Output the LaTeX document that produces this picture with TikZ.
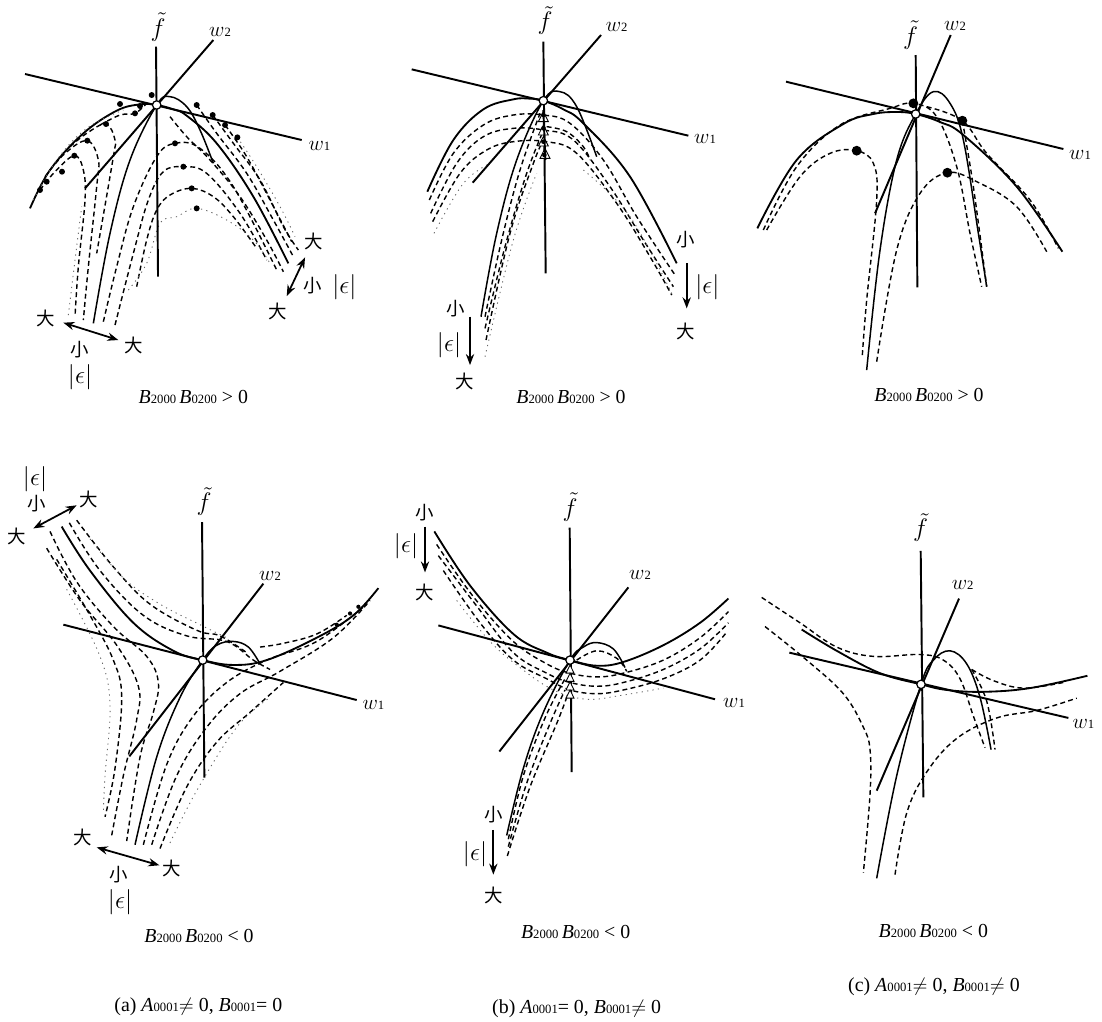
\documentclass[tikz,border=0pt]{standalone}
\usepackage{fontspec}
\setmainfont{Liberation Serif}
\newfontfamily\cjk{Noto Sans CJK SC}
\usepackage{amsmath, amssymb}
\usetikzlibrary{arrows.meta}
\newcommand{\sbs}[1]{{\fontsize{7.2}{8}\selectfont #1}}
\newcommand{\bprod}{\textit{B}\sbs{2000}\,\textit{B}\sbs{0200}}
\begin{document}
\begin{tikzpicture}[
  toprow/.style={x=0.006667cm, y=-0.006667cm},
  botrow/.style={x=0.006667cm, y=-0.007463cm},
  axisline/.style={line width=1.1pt, black},
  maincurve/.style={line width=1.05pt, black},
  thincurve/.style={line width=.85pt, black},
  dashcurve/.style={line width=.8pt, black, dash pattern=on 2.8pt off 1.9pt},
  fadecurve/.style={line width=.5pt, black!60, dash pattern=on .7pt off 2.4pt},
  arrow/.style={-{Stealth[length=2.2mm]}, line width=1pt},
  dblarrow/.style={{Stealth[length=2.2mm]}-{Stealth[length=2.2mm]}, line width=1pt},
  origin/.style={circle, draw=black, fill=white, line width=.7pt, inner sep=0pt, minimum size=4.8pt},
  trimark/.style={draw=black, fill=white, line width=.5pt},
  ftilde/.style={font=\fontsize{15}{17}\selectfont},
  wlabel/.style={font=\fontsize{13}{15}\selectfont},
  hanzi/.style={font=\fontsize{10.5}{12}\selectfont\cjk},
  eps/.style={font=\fontsize{14}{16}\selectfont},
  capt/.style={font=\fontsize{11.3}{13}\selectfont},
  tension=0.62,
]
\useasboundingbox (0,0) rectangle (22.04,-20.44);

% === Panel a, top ===
\begin{scope}[toprow]
\draw[maincurve] plot[smooth] coordinates {(90,625) (150,510) (250,400) (350,332) (420,313) (470,315) (520,328) (560,347) (650,430) (760,590) (865,790)};
\draw[thincurve] plot[smooth] coordinates {(280,970) (330,700) (390,480) (470,315) (510,290) (560,320) (600,390) (640,490)};
\draw[dashcurve] plot[smooth] coordinates {(120,570) (165,515) (223,467) (250,510) (255,600) (235,800) (225,950)};
\draw[dashcurve] plot[smooth] coordinates {(135,530) (195,460) (262,422) (295,480) (290,560) (265,800) (250,960)};
\draw[dashcurve] plot[smooth] coordinates {(210,440) (260,400) (318,372) (345,420) (340,470) (290,760)};
\draw[dashcurve] plot[smooth] coordinates {(300,375) (360,345) (405,340) (440,310)};
\draw[dashcurve] plot[smooth] coordinates {(310,965) (350,800) (400,620) (470,470) (525,430) (600,445) (700,560) (830,810)};
\draw[dashcurve] plot[smooth] coordinates {(345,975) (400,760) (445,600) (490,515) (550,500) (620,520) (720,640) (800,780)};
\draw[dashcurve] plot[smooth] coordinates {(410,860) (440,720) (470,630) (510,585) (575,565) (640,590) (700,650) (770,745)};
\draw[fadecurve] plot[smooth] coordinates {(205,945) (225,780) (245,620)};
\draw[fadecurve] plot[smooth] coordinates {(385,870) (440,790) (480,670) (530,650) (590,625) (680,660) (760,720) (810,790)};
\draw[dashcurve] plot[smooth] coordinates {(590,315) (650,400) (740,520) (820,660) (880,770)};
\draw[dashcurve] plot[smooth] coordinates {(638,345) (700,430) (780,540) (850,680) (895,750)};
\draw[dashcurve] plot[smooth] coordinates {(675,375) (740,470) (810,600) (875,725)};
\draw[dashcurve] plot[smooth] coordinates {(510,350) (560,410) (630,480) (720,590) (800,720) (850,815)};
\draw[fadecurve] plot[smooth] coordinates {(712,412) (770,500) (840,620) (885,710)};
\draw[fadecurve] plot[smooth] coordinates {(100,600) (170,480) (260,385) (370,330)};
\fill (223,467) circle (1.7pt) (186,515) circle (1.7pt) (140,545) circle (1.7pt) (120,570) circle (1.7pt)
  (262,422) circle (1.7pt) (318,372) circle (1.7pt) (405,340) circle (1.7pt) (420,318) circle (1.7pt)
  (360,312) circle (1.7pt) (455,285) circle (1.7pt) (590,315) circle (1.7pt) (638,345) circle (1.7pt)
  (675,375) circle (1.7pt) (712,412) circle (1.7pt) (525,430) circle (1.7pt) (550,500) circle (1.7pt)
  (575,565) circle (1.7pt) (590,625) circle (1.7pt);
\draw[axisline] (468,140) -- (474,830);
\draw[axisline] (640,120) -- (255,565);
\draw[axisline] (75,222) -- (905,420);
\node[origin] (oa) at (470,315) {};
\node[ftilde] (fa) at (474,82) {$\tilde{f}$};
\node[wlabel] (wta) at (660,95) {$w$\sbs{2}};
\node[wlabel] (woa) at (958,437) {$w$\sbs{1}};
\draw[dblarrow] (190,968) -- (355,1020);
\node[hanzi] (bla) at (138,955) {大};
\node[hanzi] (bra) at (400,1035) {大};
\node[hanzi] (sla) at (238,1050) {小};
\node[eps] (ela) at (240,1132) {$|\epsilon|$};
\draw[dblarrow] (915,772) -- (860,888);
\node[hanzi] (tra) at (940,725) {大};
\node[hanzi] (sra) at (938,857) {小};
\node[eps] (era) at (1033,860) {$|\epsilon|$};
\node[hanzi] (lra) at (833,935) {大};
\node[capt] (capa) at (580,1190) {\bprod{} > 0};
\end{scope}

% === Panel b, top ===
\begin{scope}[toprow, shift={(7.4cm,0cm)}]
\draw[maincurve] plot[smooth] coordinates {(172,575) (250,420) (340,328) (430,298) (480,296) (520,302) (580,328) (640,370) (780,530) (920,790)};
\draw[thincurve] plot[smooth] coordinates {(333,950) (380,700) (440,480) (520,302) (570,275) (620,320) (680,470)};
\draw[dashcurve] plot[smooth] coordinates {(178,600) (250,460) (340,375) (430,345) (520,345) (600,370) (700,480) (800,650) (915,825)};
\draw[dashcurve] plot[smooth] coordinates {(182,640) (260,490) (340,410) (430,385) (520,390) (610,420) (720,560) (820,720) (910,860)};
\draw[dashcurve] plot[smooth] coordinates {(188,665) (270,520) (350,450) (430,425) (530,425) (620,460) (740,610) (840,770) (905,885)};
\draw[fadecurve] plot[smooth] coordinates {(192,700) (280,550) (360,490)};
\draw[fadecurve] plot[smooth] coordinates {(640,510) (780,650) (910,890)};
\draw[dashcurve] plot[smooth] coordinates {(345,950) (395,720) (450,510) (510,340)};
\draw[dashcurve] plot[smooth] coordinates {(345,985) (405,740) (470,520) (525,380)};
\draw[dashcurve] plot[smooth] coordinates {(348,1020) (420,700) (490,490) (520,420)};
\draw[fadecurve] plot[smooth] coordinates {(345,1070) (430,720) (500,520)};
\draw[dashcurve] plot[smooth] coordinates {(530,380) (590,395) (640,440) (660,480)};
\draw[axisline] (520,125) -- (527,820);
\draw[axisline] (693,105) -- (308,548);
\draw[axisline] (125,208) -- (955,407);
\path[trimark] (520,335) -- (505,365) -- (535,365) -- cycle;
\path[trimark] (520,375) -- (505,405) -- (535,405) -- cycle;
\path[trimark] (520,410) -- (505,438) -- (535,438) -- cycle;
\path[trimark] (525,445) -- (510,475) -- (540,475) -- cycle;
\draw[axisline] (520,330) -- (526,480);
\fill (520,345) circle (1.3pt) (520,385) circle (1.3pt) (520,425) circle (1.3pt) (523,465) circle (1.3pt);
\node[origin] (ob) at (520,302) {};
\node[ftilde] (fb) at (525,62) {$\tilde{f}$};
\node[wlabel] (wtb) at (740,80) {$w$\sbs{2}};
\node[wlabel] (wob) at (1005,418) {$w$\sbs{1}};
\draw[arrow] (300,950) -- (300,1095);
\node[hanzi] (slb) at (258,925) {小};
\node[eps] (elb) at (237,1035) {$|\epsilon|$};
\node[hanzi] (blb) at (283,1145) {大};
\draw[arrow] (950,790) -- (950,925);
\node[hanzi] (srb) at (948,720) {小};
\node[eps] (erb) at (1012,860) {$|\epsilon|$};
\node[hanzi] (brb) at (948,995) {大};
\node[capt] (capb) at (603,1190) {\bprod{} > 0};
\end{scope}

% === Panel c, top ===
\begin{scope}[toprow, shift={(14.6cm,0cm)}]
\draw[maincurve] plot[smooth] coordinates {(82,685) (200,480) (340,372) (430,342) (500,336) (557,342) (630,366) (700,405) (860,560) (997,755)};
\draw[thincurve] plot[smooth] coordinates {(410,1110) (450,750) (500,480) (557,342) (610,275) (660,310) (700,420) (745,700) (770,860)};
\draw[dashcurve] plot[smooth] coordinates {(100,690) (200,500) (330,375) (480,325) (550,310) (620,350) (680,500) (720,700) (755,860)};
\draw[dashcurve] plot[smooth] coordinates {(110,690) (210,530) (300,460) (380,452) (430,490) (440,600) (410,900) (397,1065)};
\draw[dashcurve] plot[smooth] coordinates {(440,1085) (500,750) (570,580) (652,518) (740,545) (860,620) (950,755)};
\draw[dashcurve] plot[smooth] coordinates {(590,320) (697,362) (770,460) (900,600) (985,745)};
\draw[dashcurve] plot[smooth] coordinates {(697,362) (730,560) (770,860)};
\fill (550,310) circle (2.8pt) (697,362) circle (2.8pt) (380,452) circle (2.8pt) (652,518) circle (2.8pt);
\draw[axisline] (557,165) -- (562,862);
\draw[axisline] (662,105) -- (435,640);
\draw[axisline] (168,245) -- (1000,447);
\node[origin] (oc) at (557,342) {};
\node[ftilde] (fc) at (542,105) {$\tilde{f}$};
\node[wlabel] (wtc) at (675,78) {$w$\sbs{2}};
\node[wlabel] (woc) at (1050,465) {$w$\sbs{1}};
\node[capt] (capc) at (597,1185) {\bprod{} > 0};
\end{scope}

% === Panel a, bottom ===
\begin{scope}[botrow, shift={(0cm,-8.8cm)}]
\draw[maincurve] plot[smooth] coordinates {(185,232) (270,350) (400,490) (520,565) (608,590) (700,603) (800,590) (950,530) (1060,470) (1135,397)};
\draw[thincurve] plot[smooth] coordinates {(405,1085) (470,850) (540,690) (608,590) (650,550) (700,540) (745,555) (780,600)};
\draw[dashcurve] plot[smooth] coordinates {(208,222) (300,350) (430,470) (560,525) (680,540) (760,590) (810,615)};
\draw[dashcurve] plot[smooth] coordinates {(230,215) (340,340) (450,440) (590,510) (660,525) (740,570)};
\draw[fadecurve] plot[smooth] coordinates {(270,265) (370,370) (480,440) (600,495) (680,530)};
\draw[dashcurve] plot[smooth] coordinates {(150,245) (230,380) (340,500) (440,580) (475,650) (460,730) (420,850) (380,1075)};
\draw[dashcurve] plot[smooth] coordinates {(140,290) (240,430) (350,550) (415,660) (410,750) (370,900) (335,1060)};
\draw[dashcurve] plot[smooth] coordinates {(170,320) (270,470) (340,590) (365,690) (345,880) (315,1010)};
\draw[fadecurve] plot[smooth] coordinates {(200,400) (300,580) (330,710) (315,900) (310,1000)};
\draw[dashcurve] plot[smooth] coordinates {(430,1085) (500,870) (580,740) (680,650) (800,590) (950,540) (1100,440)};
\draw[dashcurve] plot[smooth] coordinates {(455,1085) (530,900) (620,770) (720,680) (840,620) (1000,530) (1110,430)};
\draw[dashcurve] plot[smooth] coordinates {(480,1095) (560,930) (650,810) (750,730) (850,650)};
\draw[fadecurve] plot[smooth] coordinates {(510,1080) (590,940) (710,770) (810,690)};
\draw[dashcurve] plot[smooth] coordinates {(780,555) (850,545) (950,520) (1040,470)};
\fill (1010,495) circle (1.2pt) (1050,465) circle (1.2pt) (1075,447) circle (1.2pt);
\draw[axisline] (606,220) -- (613,905);
\draw[axisline] (790,385) -- (388,848);
\draw[axisline] (190,495) -- (1070,697);
\node[origin] (od) at (608,590) {};
\node[ftilde] (fd) at (612,165) {$\tilde{f}$};
\node[wlabel] (wtd) at (810,365) {$w$\sbs{2}};
\node[wlabel] (wod) at (1120,710) {$w$\sbs{1}};
\draw[dblarrow] (290,1092) -- (478,1140);
\node[hanzi] (bld) at (247,1065) {大};
\node[hanzi] (brd) at (515,1148) {大};
\node[hanzi] (sld) at (355,1165) {小};
\node[eps] (eld) at (360,1240) {$|\epsilon|$};
\draw[dblarrow] (100,237) -- (230,175);
\node[hanzi] (tld) at (50,258) {大};
\node[hanzi] (trd) at (265,160) {大};
\node[hanzi] (std) at (110,170) {小};
\node[eps] (etd) at (105,105) {$|\epsilon|$};
\node[capt] (capd) at (597,1330) {\bprod{} < 0};
\node[capt] (suba) at (595,1520) {(a) \textit{A}\sbs{0001}$\neq$ 0, \textit{B}\sbs{0001}= 0};
\end{scope}

% === Panel b, bottom ===
\begin{scope}[botrow, shift={(7.6cm,-8.8cm)}]
\draw[maincurve] plot[smooth] coordinates {(163,245) (270,390) (400,520) (500,570) (570,590) (650,605) (730,595) (850,550) (960,490) (1045,425)};
\draw[thincurve] plot[smooth] coordinates {(380,1060) (430,880) (490,730) (570,590) (610,555) (650,543) (700,560) (735,610)};
\draw[dashcurve] plot[smooth] coordinates {(170,280) (280,420) (400,540) (500,600) (570,625) (650,635) (730,625) (850,590) (960,530) (1045,460)};
\draw[dashcurve] plot[smooth] coordinates {(175,310) (290,445) (400,570) (500,625) (570,650) (650,660) (730,650) (850,615) (960,560) (1045,490)};
\draw[dashcurve] plot[smooth] coordinates {(190,350) (300,490) (400,590) (500,640) (570,670) (650,680) (730,670) (850,640) (960,590) (1040,515)};
\draw[fadecurve] plot[smooth] coordinates {(230,430) (330,540) (420,610) (520,670) (620,695) (720,685) (850,665)};
\draw[dashcurve] plot[smooth] coordinates {(590,590) (650,565) (710,585) (740,620)};
\draw[dashcurve] plot[smooth] coordinates {(385,1070) (430,900) (495,745) (555,640)};
\draw[dashcurve] plot[smooth] coordinates {(385,1090) (440,920) (510,760) (555,670)};
\draw[dashcurve] plot[smooth] coordinates {(382,1115) (450,930) (530,760) (560,690)};
\draw[axisline] (569,235) -- (575,890);
\draw[axisline] (745,395) -- (358,835);
\draw[axisline] (175,497) -- (1005,695);
\path[trimark] (570,603) -- (558,625) -- (582,625) -- cycle;
\path[trimark] (570,625) -- (558,647) -- (582,647) -- cycle;
\path[trimark] (570,648) -- (558,670) -- (582,670) -- cycle;
\path[trimark] (570,670) -- (558,692) -- (582,692) -- cycle;
\node[origin] (oe) at (570,590) {};
\node[ftilde] (fe) at (570,180) {$\tilde{f}$};
\node[wlabel] (wte) at (780,362) {$w$\sbs{2}};
\node[wlabel] (woe) at (1062,705) {$w$\sbs{1}};
\draw[arrow] (135,232) -- (135,355);
\node[hanzi] (ste) at (133,195) {小};
\node[eps] (ete) at (78,285) {$|\epsilon|$};
\node[hanzi] (bte) at (133,410) {大};
\draw[arrow] (340,1045) -- (340,1165);
\node[hanzi] (sle) at (340,1005) {小};
\node[eps] (ele) at (285,1110) {$|\epsilon|$};
\node[hanzi] (ble) at (340,1220) {大};
\node[capt] (cape) at (587,1320) {\bprod{} < 0};
\node[capt] (subb) at (590,1525) {(b) \textit{A}\sbs{0001}= 0, \textit{B}\sbs{0001}$\neq$ 0};
\end{scope}

% === Panel c, bottom ===
\begin{scope}[botrow, shift={(14.6cm,-8.8cm)}]
\draw[maincurve] plot[smooth] coordinates {(215,508) (320,565) (450,625) (573,655) (650,670) (760,675) (900,665) (1072,632)};
\draw[thincurve] plot[smooth] coordinates {(440,1175) (500,900) (573,655) (610,590) (660,565) (710,600) (750,690) (783,830)};
\draw[dashcurve] plot[smooth] coordinates {(95,422) (210,490) (320,555) (430,580) (570,575) (640,590) (690,640) (730,740) (765,825)};
\draw[dashcurve] plot[smooth] coordinates {(105,500) (230,590) (340,680) (400,770) (420,830) (420,950) (400,1160)};
\draw[dashcurve] plot[smooth] coordinates {(495,1165) (530,1000) (590,890) (680,800) (800,745) (920,725) (1040,692)};
\draw[dashcurve] plot[smooth] coordinates {(725,615) (790,645) (880,665) (1000,650)};
\draw[dashcurve] plot[smooth] coordinates {(725,615) (770,700) (795,830)};
\draw[axisline] (572,297) -- (580,958);
\draw[axisline] (687,425) -- (440,940);
\draw[axisline] (178,570) -- (1015,745);
\node[origin] (of) at (573,655) {};
\node[ftilde] (ff) at (572,235) {$\tilde{f}$};
\node[wlabel] (wtf) at (698,388) {$w$\sbs{2}};
\node[wlabel] (wof) at (1060,760) {$w$\sbs{1}};
\node[capt] (capf) at (610,1315) {\bprod{} < 0};
\node[capt] (subc) at (612,1465) {(c) \textit{A}\sbs{0001}$\neq$ 0, \textit{B}\sbs{0001}$\neq$ 0};
\end{scope}
\end{tikzpicture}
\end{document}
